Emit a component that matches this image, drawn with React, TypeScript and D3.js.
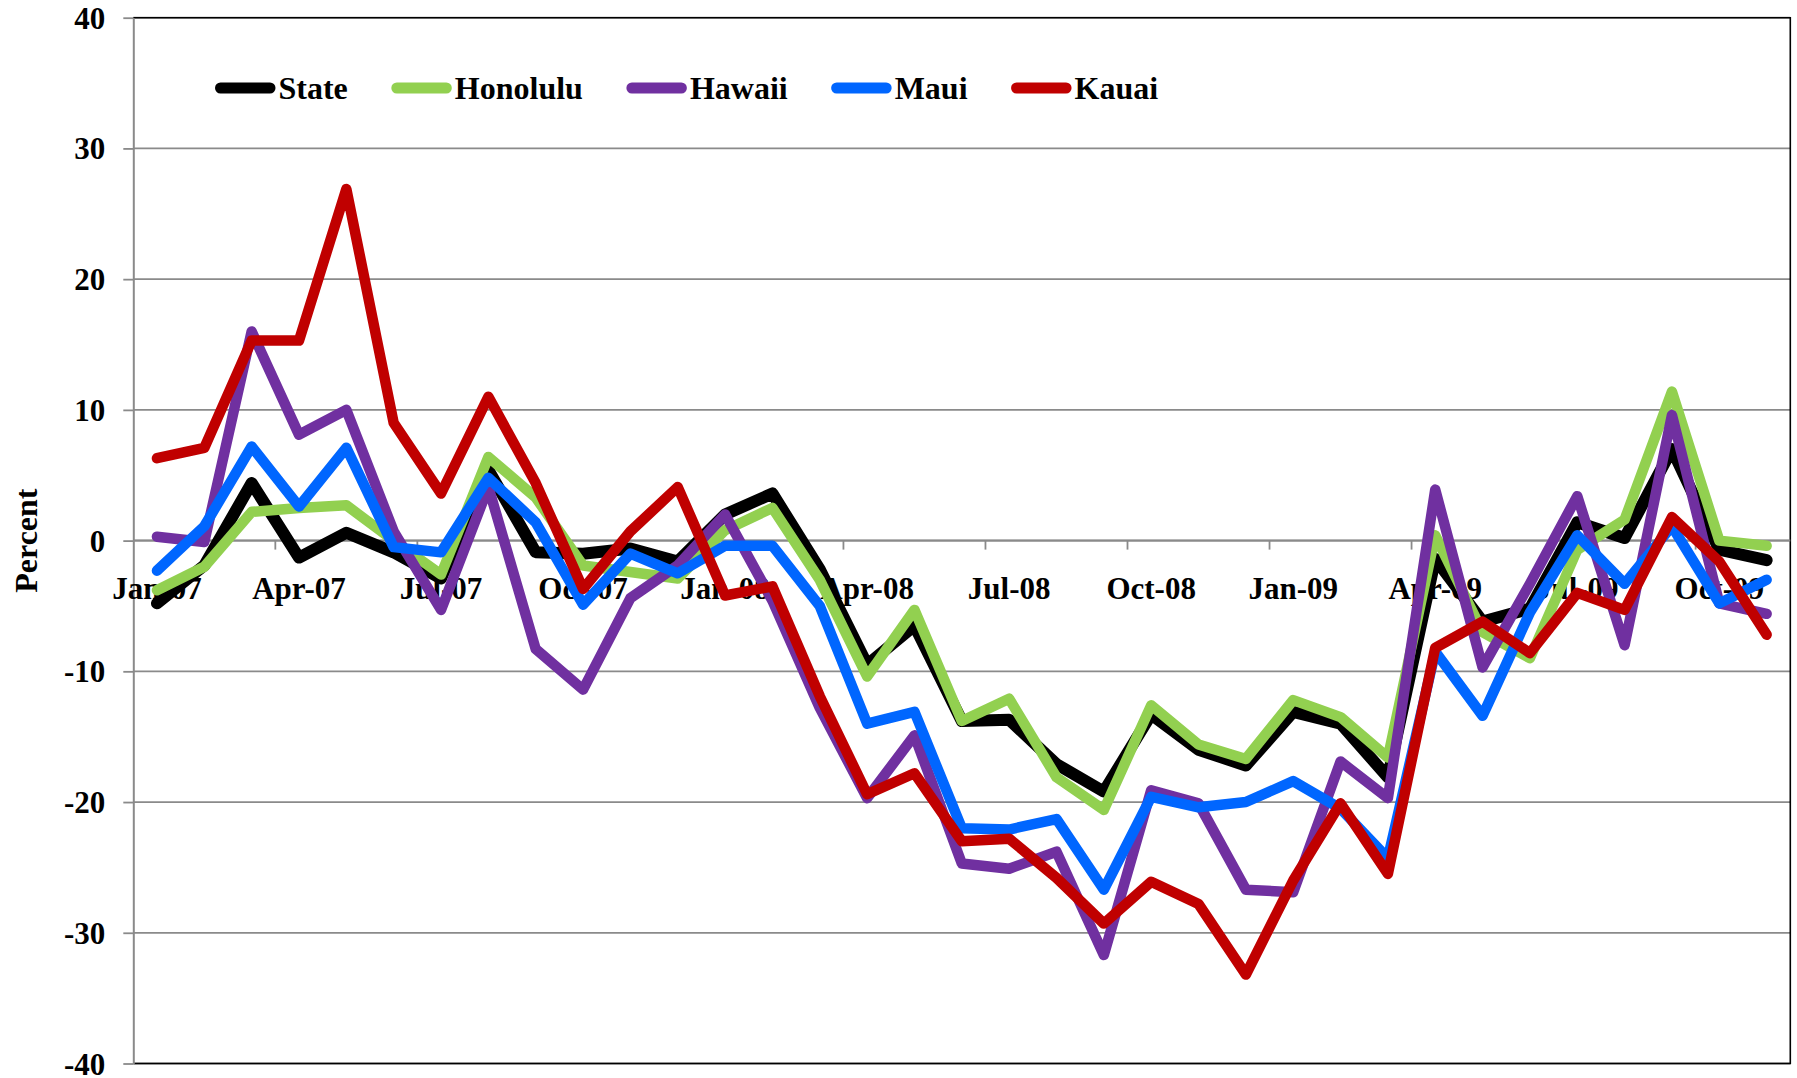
import React, { useRef, useEffect } from 'react';
import * as d3 from 'd3';

const categories = [
  'Jan-07', 'Feb-07', 'Mar-07', 'Apr-07', 'May-07', 'Jun-07', 'Jul-07', 'Aug-07', 'Sep-07', 'Oct-07', 'Nov-07', 'Dec-07',
  'Jan-08', 'Feb-08', 'Mar-08', 'Apr-08', 'May-08', 'Jun-08', 'Jul-08', 'Aug-08', 'Sep-08', 'Oct-08', 'Nov-08', 'Dec-08',
  'Jan-09', 'Feb-09', 'Mar-09', 'Apr-09', 'May-09', 'Jun-09', 'Jul-09', 'Aug-09', 'Sep-09', 'Oct-09', 'Nov-09',
];

const stateValues = [-4.8, -1.9, 4.4, -1.3, 0.6, -0.9, -2.9, 5.4, -0.9, -1.0, -0.6, -1.6, 2.0, 3.6, -2.2, -9.5, -6.5, -13.8, -13.7, -17.1, -19.2, -13.3, -16.0, -17.2, -13.1, -14.0, -18.1, -1.4, -6.2, -5.2, 1.4, 0.2, 7.0, -0.7, -1.5];
const honoluluValues = [-3.8, -2.0, 2.2, 2.5, 2.7, 0.0, -2.6, 6.4, 3.3, -1.9, -2.4, -2.9, 0.8, 2.5, -3.0, -10.4, -5.3, -13.8, -12.1, -18.1, -20.6, -12.6, -15.6, -16.7, -12.2, -13.5, -16.6, 0.4, -7.0, -9.0, -0.7, 1.6, 11.4, 0.0, -0.4];
const hawaiiValues = [0.3, -0.1, 16.0, 8.1, 10.0, 0.7, -5.3, 4.1, -8.3, -11.4, -4.4, -1.9, 2.0, -4.6, -12.8, -19.7, -14.9, -24.7, -25.1, -23.8, -31.7, -19.1, -20.1, -26.7, -26.9, -16.9, -19.7, 3.9, -9.7, -3.3, 3.4, -8.0, 9.6, -4.8, -5.6];
const mauiValues = [-2.3, 1.1, 7.2, 2.6, 7.1, -0.5, -0.9, 4.8, 1.4, -4.9, -1.0, -2.5, -0.4, -0.4, -5.0, -14.0, -13.1, -22.0, -22.1, -21.3, -26.7, -19.6, -20.4, -20.0, -18.4, -20.5, -24.3, -8.5, -13.4, -5.5, 0.4, -3.3, 1.1, -4.8, -3.0];
const kauaiValues = [6.3, 7.1, 15.3, 15.3, 26.9, 9.0, 3.6, 11.0, 4.4, -3.7, 0.7, 4.1, -4.2, -3.5, -11.9, -19.4, -17.8, -23.0, -22.8, -25.8, -29.3, -26.1, -27.8, -33.2, -26.0, -20.1, -25.5, -8.2, -6.2, -8.6, -4.0, -5.3, 1.8, -1.6, -7.2];

const seriesNames = ['State', 'Honolulu', 'Hawaii', 'Maui', 'Kauai'];
const seriesColors = ['#000000', '#92D050', '#7030A0', '#0066FF', '#C00000'];
const seriesValues = [stateValues, honoluluValues, hawaiiValues, mauiValues, kauaiValues];

const yTicks = [-40, -30, -20, -10, 0, 10, 20, 30, 40];
const labelEvery = 3;

const W = 1797;
const H = 1078;
const plot = { left: 133.3, right: 1790.3, top: 17.7, bottom: 1063.5 };
const FONT = "'Liberation Serif', 'Times New Roman', serif";

function App() {
  const svgRef = useRef(null);

  useEffect(() => {
    const svg = d3.select(svgRef.current);
    svg.selectAll('*').remove();

    const x = d3.scaleBand().domain(categories).range([plot.left, plot.right]);
    const y = d3.scaleLinear().domain([-40, 40]).range([plot.bottom, plot.top]);
    const cx = (c) => x(c) + x.bandwidth() / 2;

    // gridlines
    svg.append('g')
      .selectAll('line')
      .data(yTicks)
      .join('line')
      .attr('x1', plot.left)
      .attr('x2', plot.right)
      .attr('y1', (d) => y(d))
      .attr('y2', (d) => y(d))
      .attr('stroke', '#8a8a8a')
      .attr('stroke-width', 1.8);

    // plot border (top, right, bottom)
    svg.append('path')
      .attr('d', `M${plot.left},${y(40)}H${plot.right}V${y(-40)}H${plot.left}`)
      .attr('fill', 'none')
      .attr('stroke', '#000')
      .attr('stroke-width', 1.6);

    // y axis
    const yAxis = svg.append('g')
      .attr('transform', `translate(${plot.left},0)`)
      .call(d3.axisLeft(y).tickValues(yTicks).tickSize(10).tickSizeOuter(0).tickPadding(18).tickFormat((d) => String(d)));
    yAxis.select('.domain').attr('stroke', '#8a8a8a').attr('stroke-width', 2);
    yAxis.selectAll('.tick line').attr('stroke', '#8a8a8a').attr('stroke-width', 1.8);
    yAxis.selectAll('.tick text')
      .attr('font-family', FONT)
      .attr('font-weight', 'bold')
      .attr('font-size', 31)
      .attr('dy', '0.34em')
      .attr('fill', '#000');

    // x axis at zero
    const y0 = y(0);
    svg.append('line')
      .attr('x1', plot.left).attr('x2', plot.right)
      .attr('y1', y0).attr('y2', y0)
      .attr('stroke', '#8a8a8a').attr('stroke-width', 2);

    const tickCats = categories.filter((c, i) => i > 0 && i % labelEvery === 0);
    svg.append('g')
      .selectAll('line')
      .data(tickCats)
      .join('line')
      .attr('x1', (d) => x(d))
      .attr('x2', (d) => x(d))
      .attr('y1', y0)
      .attr('y2', y0 + 9)
      .attr('stroke', '#8a8a8a')
      .attr('stroke-width', 1.8);

    svg.append('g')
      .selectAll('text')
      .data(categories.filter((c, i) => i % labelEvery === 0))
      .join('text')
      .attr('x', (d) => cx(d))
      .attr('y', y0 + 58)
      .attr('text-anchor', 'middle')
      .attr('font-family', FONT)
      .attr('font-weight', 'bold')
      .attr('font-size', 31)
      .text((d) => d);

    // y title
    svg.append('text')
      .attr('transform', `translate(37,${(plot.top + plot.bottom) / 2}) rotate(-90)`)
      .attr('text-anchor', 'middle')
      .attr('font-family', FONT)
      .attr('font-weight', 'bold')
      .attr('font-size', 32)
      .text('Percent');

    // series lines
    const line = d3.line()
      .x((d, i) => cx(categories[i]))
      .y((d) => y(d));

    svg.append('g')
      .selectAll('path')
      .data(seriesValues)
      .join('path')
      .attr('d', (d) => line(d))
      .attr('fill', 'none')
      .attr('stroke', (d, i) => seriesColors[i])
      .attr('stroke-width', (d, i) => (i === 0 ? 12 : 10.5))
      .attr('stroke-linejoin', 'round')
      .attr('stroke-linecap', 'round');

    // legend
    const legend = svg.append('g');
    let lx = 215;
    const ly = 88;
    seriesNames.forEach((name, i) => {
      legend.append('line')
        .attr('x1', lx + 5.5).attr('x2', lx + 55)
        .attr('y1', ly).attr('y2', ly)
        .attr('stroke', seriesColors[i])
        .attr('stroke-width', 11)
        .attr('stroke-linecap', 'round');
      const t = legend.append('text')
        .attr('x', lx + 63.5)
        .attr('y', ly + 11)
        .attr('font-family', FONT)
        .attr('font-weight', 'bold')
        .attr('font-size', 32)
        .text(name);
      const w = t.node().getComputedTextLength();
      lx = lx + 63.5 + w + 43.5;
    });
  }, []);

  return (
    <svg
      ref={svgRef}
      width={W}
      height={H}
      style={{ position: 'absolute', left: 0, top: 0, background: '#fff' }}
    />
  );
}

export default App;
